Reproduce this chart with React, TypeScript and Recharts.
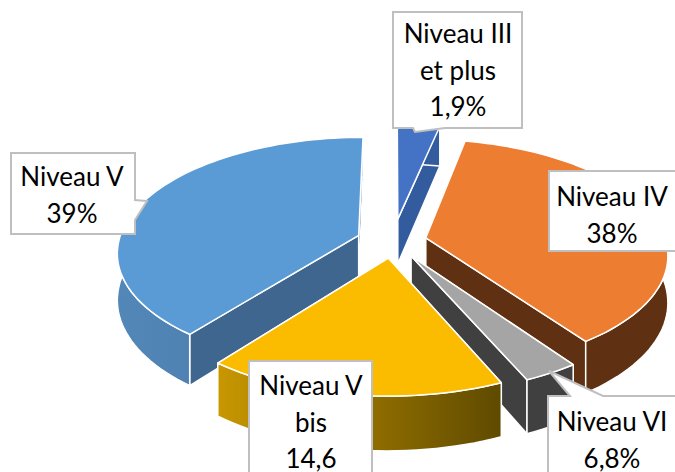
import { PieChart, Pie } from "recharts";

// slices in drawing order, back to front
const categories = ["Niveau V", "Niveau III et plus", "Niveau IV", "Niveau VI", "Niveau V bis"];
// angular share of each slice as it looks on the picture (%)
const shares = [39.45, 3.3, 36.9, 3.2, 17.15];
const explode = [0.152, 0.2, 0.14, 0.15, 0.15];

const topColors = ["#5B9BD5", "#4472C4", "#ED7D31", "#A5A5A5", "#FBBC00"];
const sideColors = ["#3F668F", "#335C9E", "#5F3112", "#404040", "#8A6A00"];
const wallFrom = ["#5287B8", "#335C9E", "#5F3112", "#404040", "#C89700"];
const wallTo = ["#4776A5", "#335C9E", "#5F3112", "#404040", "#5F4A00"];

const labelLines = [
  ["Niveau V", "39%"],
  ["Niveau III", "et plus", "1,9%"],
  ["Niveau IV", "38%"],
  ["Niveau VI", "6,8%"],
  ["Niveau V", "bis", "14,6"],
];
const labelBoxes = [
  "M11 153H135V200L147 201L135 220V234H11Z",
  "M393 12H522V128H445L415 132L413 128H393Z",
  "M549 171H690V251H549Z",
  "M548 396H570L549 371L603 396H690V490H548Z",
  "M249 361H372V490H249Z",
];
const labelCenters = [72, 458, 612, 612, 311];
const labelTops = [176, 33, 196, 421, 385];

const tableData = categories.map((name, i) => ({ name, value: shares[i] }));

const SQUASH = 0.472;
const PERSPECTIVE = 0.14;
const DEPTH = 46;
const RAD = Math.PI / 180;

function Slice(props: any) {
  const { cx, cy, outerRadius, startAngle, endAngle, name } = props;
  const i = categories.indexOf(name);
  const from = 90 - startAngle;
  const to = 90 - endAngle;
  const mid = ((from + to) / 2) * RAD;
  const ox = explode[i] * Math.sin(mid);
  const oy = -explode[i] * Math.cos(mid);

  const project = (u: number, v: number, down: number) => {
    const s = 1 / (1 - PERSPECTIVE * v);
    return [cx + outerRadius * u * s, cy + outerRadius * SQUASH * v * s + down * DEPTH * s];
  };
  const rim = (deg: number, down: number) =>
    project(ox + Math.sin(deg * RAD), oy - Math.cos(deg * RAD), down);
  const path = (pts: number[][]) =>
    "M" + pts.map((p) => `${p[0].toFixed(1)} ${p[1].toFixed(1)}`).join("L") + "Z";

  const arc: number[][] = [];
  const arcBottom: number[][] = [];
  const steps = Math.max(2, Math.ceil((to - from) / 2));
  for (let k = 0; k <= steps; k++) {
    const deg = from + ((to - from) * k) / steps;
    arc.push(rim(deg, 0));
    arcBottom.push(rim(deg, 1));
  }
  const apex = project(ox, oy, 0);
  const apexBottom = project(ox, oy, 1);
  const gradId = `wall-${i}`;

  return (
    <g stroke="#fff" strokeWidth={1.5} strokeLinejoin="round">
      <defs>
        <linearGradient id={gradId} x1="0" y1="0" x2="1" y2="0">
          <stop offset="0%" stopColor={wallFrom[i]} />
          <stop offset="100%" stopColor={wallTo[i]} />
        </linearGradient>
      </defs>
      <path d={path([apex, arc[0], arcBottom[0], apexBottom])} fill={sideColors[i]} />
      <path d={path([apex, arc[steps], arcBottom[steps], apexBottom])} fill={sideColors[i]} />
      <path d={path([...arc, ...[...arcBottom].reverse()])} fill={`url(#${gradId})`} />
      <path d={path([apex, ...arc])} fill={topColors[i]} />
    </g>
  );
}

function Callout(props: any) {
  const i = props.index;
  return (
    <g>
      <path d={labelBoxes[i]} fill="#fff" stroke="#BFBFBF" strokeWidth={2} />
      {labelLines[i].map((line, k) => (
        <text
          key={line}
          x={labelCenters[i]}
          y={labelTops[i] + k * 36.5}
          textAnchor="middle"
          dominantBaseline="central"
          fontFamily="Lato, sans-serif"
          fontSize={26}
          fill="#000"
        >
          {line}
        </text>
      ))}
    </g>
  );
}

export default function App() {
  return (
    <div style={{ position: "absolute", left: 0, top: 0, width: 675, height: 472, overflow: "hidden", background: "#fff" }}>
      <PieChart width={675} height={472} margin={{ top: 0, right: 0, bottom: 0, left: 0 }}>
        <Pie
          data={tableData}
          dataKey="value"
          nameKey="name"
          cx={393}
          cy={241}
          innerRadius={0}
          outerRadius={240}
          startAngle={-128}
          endAngle={-488}
          stroke="none"
          shape={Slice}
          label={Callout}
          labelLine={false}
          isAnimationActive={false}
        />
      </PieChart>
    </div>
  );
}
